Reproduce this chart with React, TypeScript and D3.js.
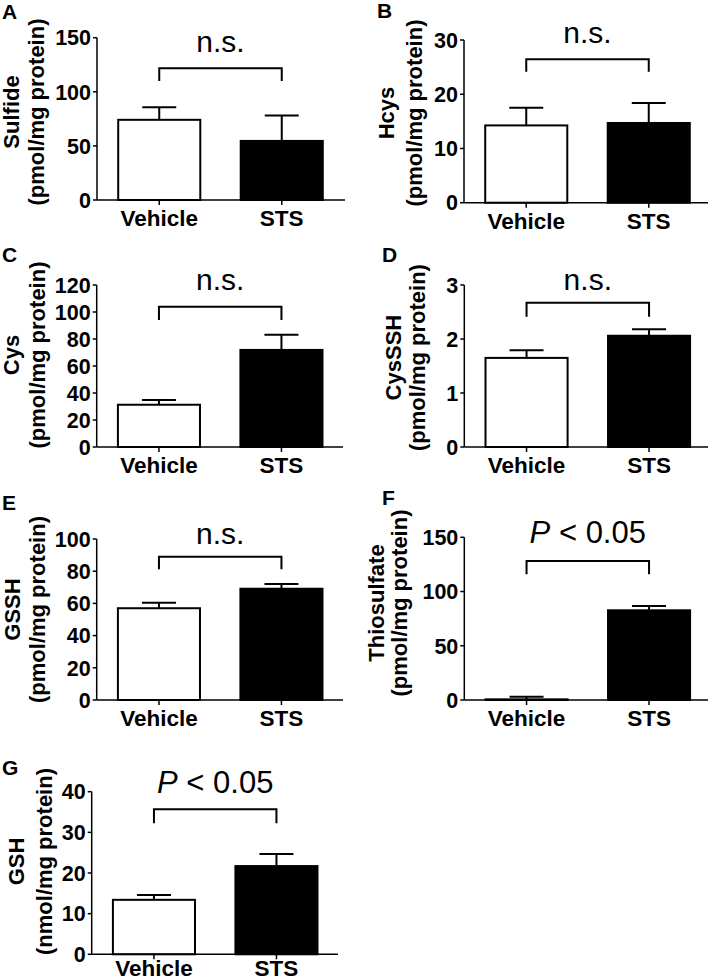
import React from "react";
import * as d3 from "d3";

// ---- data ----
const categories = ["Vehicle", "STS"];
const panelLetters = ["A", "B", "C", "D", "E", "F", "G"];
const analytes = ["Sulfide", "Hcys", "Cys", "CysSSH", "GSSH", "Thiosulfate", "GSH"];
const units = [
  "(pmol/mg protein)",
  "(pmol/mg protein)",
  "(pmol/mg protein)",
  "(pmol/mg protein)",
  "(pmol/mg protein)",
  "(pmol/mg protein)",
  "(nmol/mg protein)",
];
const vehicleMeans = [74.1, 14.25, 31.3, 1.65, 57, 0.6, 13.4];
const vehicleErrors = [11.7, 3.25, 3.5, 0.14, 3.4, 2.4, 1.2];
const stsMeans = [54.6, 14.7, 71.9, 2.06, 69.1, 82.7, 21.7];
const stsErrors = [23.5, 3.7, 11.3, 0.12, 2.9, 4.0, 3.0];
const yMax = [150, 30, 120, 3, 100, 150, 40];
const yStep = [50, 10, 20, 1, 20, 50, 10];
const significance = ["n.s.", "n.s.", "n.s.", "n.s.", "n.s.", "P < 0.05", "P < 0.05"];

// ---- layout (pixel positions of each panel) ----
const layout = [
  { axisX: 97, axisEnd: 345, top: 37.7, zero: 200, lab1X: 18.5, lab2X: 44, labY: 112, letterX: 2, letterY: 19, bracketY: 68.3, drop: 12.7, textY: 51.7 },
  { axisX: 464, axisEnd: 708, top: 40, zero: 202.7, lab1X: 394, lab2X: 422, labY: 113, letterX: 377, letterY: 18, bracketY: 59.3, drop: 12.4, textY: 43.3 },
  { axisX: 96.7, axisEnd: 343, top: 285, zero: 447, lab1X: 19, lab2X: 45, labY: 355, letterX: 2, letterY: 262, bracketY: 306.7, drop: 13.3, textY: 290 },
  { axisX: 464.3, axisEnd: 708, top: 285, zero: 447, lab1X: 401, lab2X: 425, labY: 357.6, letterX: 382, letterY: 262, bracketY: 302.7, drop: 14, textY: 290 },
  { axisX: 96.7, axisEnd: 343, top: 539, zero: 700, lab1X: 20, lab2X: 45, labY: 609.5, letterX: 2, letterY: 510, bracketY: 556.7, drop: 12.6, textY: 544 },
  { axisX: 464.3, axisEnd: 708, top: 537.3, zero: 700, lab1X: 384, lab2X: 407, labY: 603, letterX: 382, letterY: 505, bracketY: 561, drop: 13.3, textY: 543.3 },
  { axisX: 91.7, axisEnd: 338, top: 791.7, zero: 954.3, lab1X: 24, lab2X: 52, labY: 861.5, letterX: 2, letterY: 775, bracketY: 809.3, drop: 14, textY: 792.7 },
];

const FONT = "'Liberation Sans', Arial, Helvetica, sans-serif";

function Panel({ i }: { i: number }) {
  const L = layout[i];
  const y = d3.scaleLinear().domain([0, yMax[i]]).range([L.zero, L.top]);
  const x = d3
    .scaleBand<string>()
    .domain(categories)
    .range([L.axisX + 1, L.axisX + 246])
    .paddingInner(0.33)
    .paddingOuter(0.165);
  const ticks = d3.range(0, yMax[i] + yStep[i] / 2, yStep[i]);
  const means = [vehicleMeans[i], stsMeans[i]];
  const errs = [vehicleErrors[i], stsErrors[i]];
  const bw = x.bandwidth();
  const capHalf = 17;
  const cx = (c: string) => (x(c) as number) + bw / 2;
  const sig = significance[i];
  const isP = sig.startsWith("P");
  const c0 = cx(categories[0]);
  const c1 = cx(categories[1]);
  const xLabY = Math.min(L.zero + 26, 976);
  return (
    <g>
      <text x={L.letterX} y={L.letterY} fontSize={21} fontWeight="bold" fontFamily={FONT}>
        {panelLetters[i]}
      </text>
      {/* y label */}
      <text
        transform={`translate(${L.lab1X},${L.labY}) rotate(-90)`}
        textAnchor="middle"
        fontSize={22}
        fontWeight="bold"
        fontFamily={FONT}
      >
        {analytes[i]}
      </text>
      <text
        transform={`translate(${L.lab2X},${L.labY}) rotate(-90)`}
        textAnchor="middle"
        fontSize={22}
        fontWeight="bold"
        fontFamily={FONT}
      >
        {units[i]}
      </text>
      {/* bars */}
      {categories.map((c, k) => {
        const top = y(means[k]);
        const errTop = y(means[k] + errs[k]);
        return (
          <g key={c}>
            <line x1={cx(c)} x2={cx(c)} y1={top} y2={errTop} stroke="#000" strokeWidth={2} />
            <line x1={cx(c) - capHalf} x2={cx(c) + capHalf} y1={errTop} y2={errTop} stroke="#000" strokeWidth={2} />
            <rect
              x={x(c)}
              y={top}
              width={bw}
              height={L.zero - top}
              fill={k === 0 ? "#fff" : "#000"}
              stroke="#000"
              strokeWidth={2}
            />
          </g>
        );
      })}
      {/* y axis */}
      <line x1={L.axisX} x2={L.axisX} y1={L.top} y2={L.zero} stroke="#000" strokeWidth={1.5} />
      {ticks.map((t) => (
        <g key={t}>
          <line x1={L.axisX - 4} x2={L.axisX} y1={y(t)} y2={y(t)} stroke="#000" strokeWidth={1.5} />
          <text
            x={L.axisX - 6}
            y={y(t)}
            dy="0.36em"
            textAnchor="end"
            fontSize={21.5}
            fontWeight="bold"
            fontFamily={FONT}
          >
            {t}
          </text>
        </g>
      ))}
      {/* x axis */}
      <line x1={L.axisX} x2={L.axisEnd} y1={L.zero} y2={L.zero} stroke="#000" strokeWidth={1.5} />
      {categories.map((c) => (
        <g key={c}>
          <line x1={cx(c)} x2={cx(c)} y1={L.zero} y2={L.zero + 5} stroke="#000" strokeWidth={1.5} />
          <text
            x={cx(c)}
            y={xLabY}
            textAnchor="middle"
            fontSize={22.5}
            fontWeight="bold"
            fontFamily={FONT}
          >
            {c}
          </text>
        </g>
      ))}
      {/* bracket */}
      <path
        d={`M${c0},${L.bracketY + L.drop}V${L.bracketY}H${c1}V${L.bracketY + L.drop}`}
        fill="none"
        stroke="#000"
        strokeWidth={2}
      />
      <text
        x={(c0 + c1) / 2}
        y={L.textY}
        textAnchor="middle"
        fontSize={isP ? 31 : 30}
        fontFamily={FONT}
      >
        {isP ? (
          <>
            <tspan fontStyle="italic">P</tspan>
            {sig.slice(1)}
          </>
        ) : (
          sig
        )}
      </text>
    </g>
  );
}

export default function App() {
  return (
    <div style={{ position: "absolute", left: 0, top: 0, background: "#fff" }}>
      <svg width={709} height={980} style={{ display: "block" }}>
        <rect width={709} height={980} fill="#fff" />
        {analytes.map((_, i) => (
          <Panel key={i} i={i} />
        ))}
      </svg>
    </div>
  );
}
